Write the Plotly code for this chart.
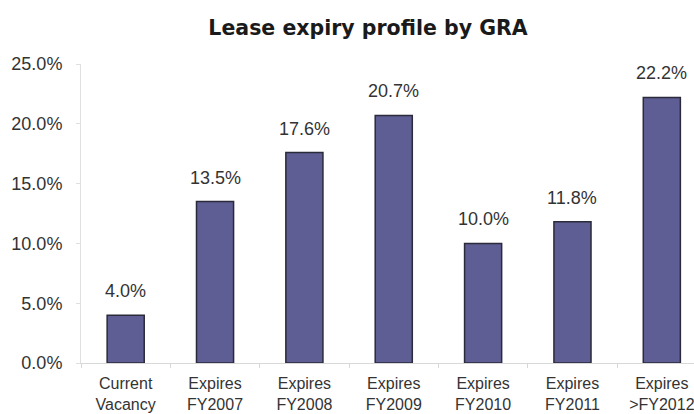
import plotly.graph_objects as go

categories = ["Current<br>Vacancy", "Expires<br>FY2007", "Expires<br>FY2008", "Expires<br>FY2009",
              "Expires<br>FY2010", "Expires<br>FY2011", "Expires<br>>FY2012"]
values = [4.0, 13.5, 17.6, 20.7, 10.0, 11.8, 22.2]
labels = ["4.0%", "13.5%", "17.6%", "20.7%", "10.0%", "11.8%", "22.2%"]
tick_vals = [0, 5, 10, 15, 20, 25]
tick_text = ["0.0%", "5.0%", "10.0%", "15.0%", "20.0%", "25.0%"]

fig = go.Figure(go.Bar(
    x=categories, y=values,
    marker=dict(color="#5E5E94", line=dict(color="#2a2a3a", width=1.5)),
    width=0.415,
))

for c, v, t in zip(categories, values, labels):
    fig.add_annotation(x=c, y=v, text=t, showarrow=False, yanchor="bottom", yshift=12,
                       font=dict(size=18, color="#333333", family="Liberation Sans"))

fig.update_layout(
    width=694, height=414,
    margin=dict(l=81, r=0, t=64, b=51, autoexpand=False),
    paper_bgcolor="white", plot_bgcolor="white",
    showlegend=False,
    title=dict(text="<b>Lease expiry profile by GRA</b>", x=368 / 694, xanchor="center", y=1 - 28 / 414,
               yanchor="middle", font=dict(size=20.5, color="#1a1a1a", family="DejaVu Sans")),
    font=dict(family="Liberation Sans", color="#333333"),
    xaxis=dict(showline=True, linecolor="#d8d8d8", linewidth=1, tickfont=dict(size=16, color="#333333"),
               ticks="outside", tickson="boundaries", ticklen=4, tickcolor="#d8d8d8",
               ticklabelstandoff=6,
               showgrid=False, range=[-0.5, 6.36], automargin=False),
    yaxis=dict(range=[0, 25], tickvals=tick_vals, ticktext=tick_text, showline=True, linecolor="#e0e0e0",
               ticks="outside", ticklen=4, tickcolor="#e0e0e0", showgrid=False, zeroline=False,
               ticklabelstandoff=10, automargin=False,
               tickfont=dict(size=18, color="#333333")),
)
fig.write_html("out.html", config={"displayModeBar": False},
               post_script="document.body.style.margin='0';document.body.style.overflow='hidden';")
